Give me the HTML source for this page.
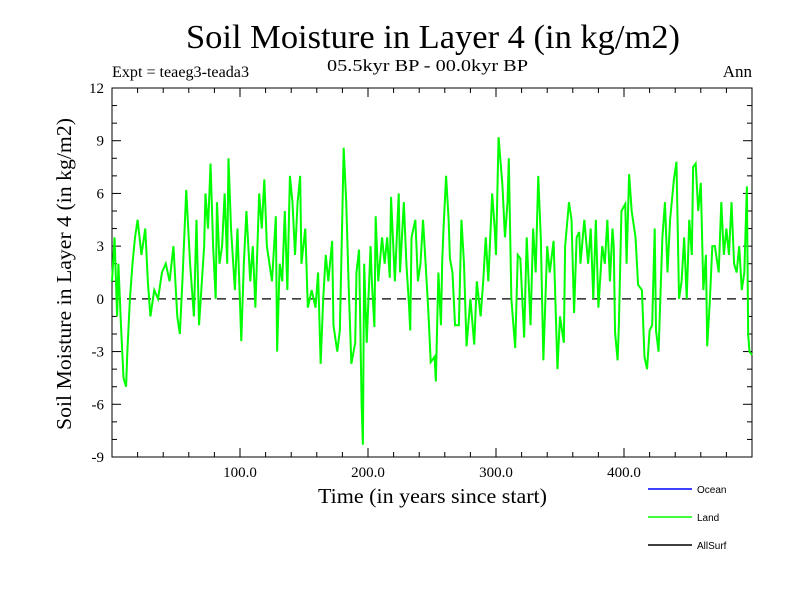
<!DOCTYPE html>
<html><head><meta charset="utf-8"><style>
body{margin:0;background:#fff}
svg{display:block}
.s{font-family:"Liberation Serif",serif}
.a{font-family:"Liberation Sans",sans-serif}
</style></head><body>
<svg id="c" width="800" height="600" viewBox="0 0 800 600">
<rect width="800" height="600" fill="#fff"/>
<text class="s" x="186" y="48" font-size="34" textLength="494" lengthAdjust="spacingAndGlyphs">Soil Moisture in Layer 4 (in kg/m2)</text>
<text class="s" x="112" y="77" font-size="16" textLength="137" lengthAdjust="spacingAndGlyphs">Expt = teaeg3-teada3</text>
<text class="s" x="327" y="71" font-size="17" textLength="201" lengthAdjust="spacingAndGlyphs">05.5kyr BP - 00.0kyr BP</text>
<text class="s" x="752" y="77" font-size="17" text-anchor="end">Ann</text>
<text class="s" x="-156" y="0" font-size="21" textLength="312" lengthAdjust="spacingAndGlyphs" transform="translate(71,274) rotate(-90)">Soil Moisture in Layer 4 (in kg/m2)</text>
<text class="s" x="318" y="503" font-size="21" textLength="229" lengthAdjust="spacingAndGlyphs">Time (in years since start)</text>
<g id="axes"></g>
<g id="series"></g>
<g>
<line x1="648" y1="489" x2="692" y2="489" stroke="#0000ff" stroke-width="1.5"/>
<text class="a" x="697" y="493" font-size="10">Ocean</text>
<line x1="648" y1="517" x2="692" y2="517" stroke="#00ff00" stroke-width="1.5"/>
<text class="a" x="697" y="521" font-size="10">Land</text>
<line x1="648" y1="545" x2="692" y2="545" stroke="#000" stroke-width="1.5"/>
<text class="a" x="697" y="549" font-size="10">AllSurf</text>
</g>
</svg>
<script>
const years=[0,2,4,5,7,9,11,12,14,16,18,20,23,26,28,30,33,36,39,42,45,48,51,53,55,58,61,64,66,68,72,73,75,77,79,81,82,84,86,88,90,91,93,96,98,101,103,105,108,110,112,115,117,119,121,123,125,128,129,131,133,135,137,139,141,143,145,147,148,151,153,156,159,161,163,165,167,169,172,173,176,178,180,181,183,185,187,190,191,193,195,196,197,199,202,203,205,206,208,211,213,215,217,218,221,224,225,228,230,232,233,234,237,239,241,243,245,247,249,252,253,255,257,258,259,261,263,264,266,268,271,273,275,277,280,283,285,288,290,292,294,297,299,300,302,305,307,309,310,312,315,317,319,322,324,327,329,331,333,335,337,340,342,345,348,350,353,354,357,359,361,363,365,366,369,372,374,376,378,380,383,385,387,389,391,392,393,395,396,398,401,402,404,406,409,411,414,416,418,420,422,424,425,427,430,432,434,436,439,441,443,445,447,449,451,453,454,456,458,460,462,464,465,467,469,471,474,476,478,480,482,484,486,488,490,492,494,496,497,498,500];
const values=[1,3.5,-1,2,-1.5,-4.5,-5,-3,0,2,3.5,4.5,2.5,4,1,-1,0.5,0,1.5,2,1,3,-1,-2,1,6.2,2,-1,4.5,-1.5,3,6,4,7.7,3,0,5.5,2,3,6,2,8,4,0.5,4,-2.4,2,5,1,3,-0.5,6,4,6.8,3,2,1,4.7,-3,2,1,5,0.5,7,5.5,2.5,5.5,7,2,4,-0.5,0.5,-0.5,1.5,-3.7,0,2.5,1,3.3,-1.5,-3,-1.8,5,8.6,5.5,0.5,-3.7,-2.5,1.5,2.8,-6,-8.3,2,-2.5,3,1,-1.6,4.7,1,3.5,2,3.5,1.2,5.8,1,6,1.5,5.5,2,-0.3,-1.8,3.5,4.5,1,2,4.5,2,-0.5,-3.6,-3.3,-4.7,1.5,-1.5,2.2,4,7,4.5,2.3,1.5,-1.5,-1.5,4.5,2,-2.7,0,-2.6,1,-1,1,3.5,1,6,4,2.5,9.2,6.5,3.5,5.5,8,0,-2.8,2.5,2.3,-2.2,3.5,-1.5,4,1.5,7,3.5,-3.5,3,1.5,3.3,-4,-1,-2.5,3,5.5,4.5,-0.8,3.5,3.8,2,4.5,2,4,0,4.5,-0.5,3,2,4.5,1,4,3,-1.9,-3.5,-1.5,5,5.4,2,7.1,5,3.5,0.8,0.5,-3.3,-4,-1.8,-1.5,4,-1.8,-3,3.5,5.5,1.5,4.5,6.8,7.8,0,1,3.5,0,4.5,2.5,7.5,7.7,5,6.6,0.5,2.5,-2.7,-0.2,3,3,1.5,5.5,2.5,4,2.5,5.5,2,1.5,3,0.5,1.5,6.4,-2,-3,-3.2,3];
const yTicks=[-9,-6,-3,0,3,6,9,12];
const xTickLabels=[100,200,300,400];
const X0=112,X1=752,Y0=88,Y1=457,XMIN=0,XMAX=500,YMIN=-9,YMAX=12;
const sx=v=>X0+(v-XMIN)/(XMAX-XMIN)*(X1-X0);
const sy=v=>Y1-(v-YMIN)/(YMAX-YMIN)*(Y1-Y0);
const NS="http://www.w3.org/2000/svg";
function mk(t,a,p){const e=document.createElementNS(NS,t);for(const k in a)e.setAttribute(k,a[k]);p.appendChild(e);return e;}
const ax=document.getElementById('axes');
const frame=mk('rect',{x:X0,y:Y0,width:X1-X0,height:Y1-Y0,fill:'none',stroke:'#000','stroke-width':1},ax);


for(let v=YMIN;v<=YMAX;v++){
  const major=yTicks.includes(v);const L=major?9:5;const y=sy(v);
  const t1=mk('line',{x1:X0,y1:y,x2:X0+L,y2:y,stroke:'#000'},ax);
  
  
  const t2=mk('line',{x1:X1,y1:y,x2:X1-L,y2:y,stroke:'#000'},ax);
  
  
}
yTicks.forEach(v=>{
  const t=mk('text',{x:X0-8,y:sy(v)+5,'font-size':15,'text-anchor':'end','class':'s'},ax);t.textContent=v;
  
  
});
for(let v=20;v<XMAX;v+=20){
  const major=v%100===0;const L=major?9:5;const x=sx(v);
  const t1=mk('line',{x1:x,y1:Y1,x2:x,y2:Y1-L,stroke:'#000'},ax);
  
  
  const t2=mk('line',{x1:x,y1:Y0,x2:x,y2:Y0+L,stroke:'#000'},ax);
  
  
}
xTickLabels.forEach(v=>{
  const t=mk('text',{x:sx(v),y:Y1+20,'font-size':15,'text-anchor':'middle','class':'s'},ax);t.textContent=v.toFixed(1);
  
  
});
const zl=mk('line',{x1:X0,y1:sy(0),x2:X1,y2:sy(0),stroke:'#000','stroke-dasharray':'9,6','stroke-width':1.2},ax);


const sg=document.getElementById('series');
const pl=mk('polyline',{points:years.map((y,i)=>sx(y)+','+sy(values[i])).join(' '),fill:'none',stroke:'#00ff00','stroke-width':2,'stroke-linejoin':'miter'},sg);


</script>
</body></html>
